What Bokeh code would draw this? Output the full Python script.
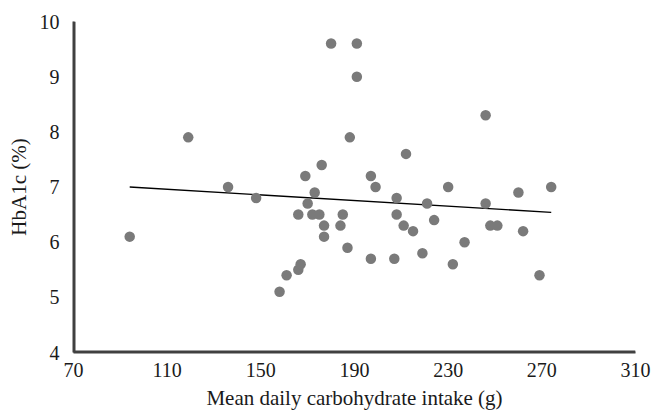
from bokeh.plotting import figure
from bokeh.models import Range1d, FixedTicker, LinearAxis
from bokeh.embed import file_html
from bokeh.resources import INLINE

carb = [94, 119, 136, 148, 158, 161, 166, 167, 166, 169, 170, 172, 173, 175, 176,
        177, 177, 180, 184, 185, 187, 188, 191, 191, 197, 197, 199, 207, 208, 208,
        211, 212, 215, 219, 221, 224, 230, 232, 237, 246, 246, 248, 251, 260, 262,
        269, 274]
hba1c = [6.1, 7.9, 7.0, 6.8, 5.1, 5.4, 5.5, 5.6, 6.5, 7.2, 6.7, 6.5, 6.9, 6.5, 7.4,
         6.3, 6.1, 9.6, 6.3, 6.5, 5.9, 7.9, 9.6, 9.0, 7.2, 5.7, 7.0, 5.7, 6.8, 6.5,
         6.3, 7.6, 6.2, 5.8, 6.7, 6.4, 7.0, 5.6, 6.0, 8.3, 6.7, 6.3, 6.3, 6.9, 6.2,
         5.4, 7.0]
trend_x = [94, 274]
trend_y = [7.0, 6.54]
x_ticks = [70, 110, 150, 190, 230, 270, 310]
y_ticks = [4, 5, 6, 7, 8, 9, 10]

FONT = "Liberation Serif"
AXIS_COLOR = "#404040"

x0, x1 = x_ticks[0], x_ticks[-1]
y0, y1 = y_ticks[0], y_ticks[-1]

p = figure(width=652, height=412, output_backend="svg", toolbar_location=None,
           x_range=Range1d(x0, x1), y_range=Range1d(y0, y1),
           x_axis_type=None, y_axis_type=None,
           min_border_left=73, min_border_right=17, min_border_top=21, min_border_bottom=59)
p.xgrid.visible = False
p.ygrid.visible = False
p.outline_line_color = None

# axis lines as thin filled bars along the range limits (half falls outside the frame)
p.rect(x=[x0], y=[(y0 + y1) / 2], width=4, height=y1 - y0, width_units="screen",
       fill_color=AXIS_COLOR, line_color=None)
p.rect(x=[(x0 + x1) / 2], y=[y0], width=x1 - x0, height=4, height_units="screen",
       fill_color=AXIS_COLOR, line_color=None)

p.line(trend_x, trend_y, line_color="black", line_width=1.3)
p.scatter(carb, hba1c, size=10.5, fill_color="#7a7a7a", line_color=None)

def style(ax, ticks):
    ax.ticker = FixedTicker(ticks=ticks)
    ax.axis_line_color = AXIS_COLOR
    ax.axis_line_width = 2
    ax.major_tick_line_color = None
    ax.minor_tick_line_color = None
    ax.major_label_text_font = FONT
    ax.major_label_text_font_size = "20px"
    ax.major_label_text_color = "#1a1a1a"
    ax.axis_label_text_font = FONT
    ax.axis_label_text_font_size = "21px"
    ax.axis_label_text_font_style = "normal"
    ax.axis_label_text_color = "#1a1a1a"

xax = LinearAxis(axis_label="Mean daily carbohydrate intake (g)")
yax = LinearAxis(axis_label="HbA1c (%)")
style(xax, x_ticks)
style(yax, y_ticks)
xax.major_label_standoff = 4
yax.major_label_standoff = 8
xax.axis_label_standoff = 6
yax.axis_label_standoff = 6
p.add_layout(xax, "below")
p.add_layout(yax, "left")

open("out.html", "w").write(file_html(p, INLINE))
